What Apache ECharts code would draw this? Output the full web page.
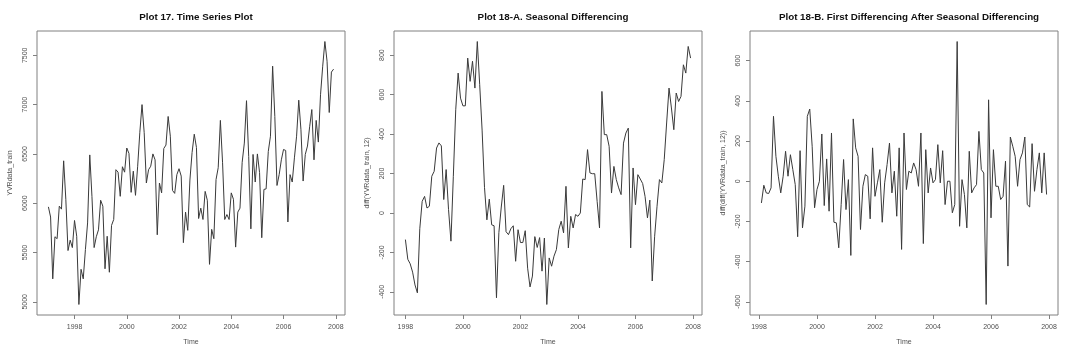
<!DOCTYPE html>
<html>
<head>
<meta charset="utf-8">
<script src="https://cdn.jsdelivr.net/npm/echarts@6/dist/echarts.min.js"></script>
<style>
  html, body { margin: 0; padding: 0; background: #fff; }
  #main { width: 1070px; height: 352px; }
</style>
</head>
<body>
<div id="main"></div>
<script>
// monthly series
var yvrStart = 1997;
var yvrTrain = [
  5963, 5860, 5233, 5660, 5640, 5970, 5940, 6430, 6040, 5520, 5625, 5550,
  5825, 5665, 4973, 5330, 5233, 5530, 5800, 6490, 6070, 5550, 5660, 5730,
  6030, 5970, 5335, 5665, 5300, 5775, 5835, 6340, 6315, 6070, 6370, 6315,
  6560, 6505, 6110, 6325, 6080, 6375, 6720, 7000, 6715, 6205, 6340, 6375,
  6500, 6440, 5680, 6205, 6105, 6555, 6590, 6880, 6680, 6130, 6100, 6290,
  6350, 6275, 5600, 5910, 5725, 6235, 6515, 6700, 6565, 5845, 5950, 5835,
  6120, 6030, 5380, 5735, 5640, 6240, 6360, 6840, 6410, 5835, 5885, 5835,
  6105, 6040, 5555, 5910, 5950, 6415, 6610, 7040, 6475, 5740, 6495, 6215,
  6500, 6310, 5650, 6140, 6145, 6525, 6680, 7390, 6880, 6180, 6290, 6440,
  6545, 6535, 5810, 6290, 6215, 6460, 6680, 7045, 6745, 6225, 6495, 6580,
  6775, 6950, 6440, 6840, 6620, 7100, 7390, 7640, 7440, 6920, 7330, 7360
];

var seasStart = 1998;
var seasDiff = [
  -135, -235, -258, -300, -365, -405, -80, 59, 84, 25, 34, 186,
  211, 329, 355, 340, 68, 220, 17, -143, 186, 523, 709, 582,
  543, 543, 785, 667, 769, 633, 869, 650, 420, 130, -35, 70,
  -60, -65, -430, -100, 30, 140, -95, -110, -80, -65, -245, -85,
  -150, -150, -90, -280, -375, -320, -120, -175, -125, -295, -127, -464,
  -228, -270, -219, -186, -84, -42, -101, 135, -177, -17, -76, -8,
  -17, 0, 172, 169, 321, 203, 199, 199, 59, -76, 616, 397,
  397, 338, 101, 236, 169, 127, 93, 354, 405, 430, -177, 228,
  42, 194, 172, 149, 84, -25, 65, -345, -118, 34, 169, 152,
  270, 456, 633, 532, 422, 608, 565, 591, 751, 709, 844, 785
];

var firstStart = 1998 + 1 / 12;
var firstDiff = [
  -108, -20, -58, -61, -33, 323, 124, 25, -58, 25, 149, 25,
  132, 58, -17, -276, 152, -232, -124, 323, 359, 174, -132, -41,
  0, 235, -121, 111, -149, 240, -204, -207, -331, -116, 108, -141,
  8, -369, 310, 166, 124, -240, -25, 33, 25, -187, 166, -75,
  -8, 58, -204, -8, 83, 190, -58, 50, -174, 166, -339, 240,
  -41, 50, 41, 91, 58, -25, 240, -310, 157, -58, 66, -8,
  8, 182, -8, 152, -116, 0, 0, -157, -116, 695, -224, 8,
  -66, -232, 149, -58, -33, -17, 248, 58, 41, -613, 405, -182,
  157, -25, -25, -91, -75, 100, -422, 220, 174, 124, -25, 108,
  141, 220, -116, -128, 187, -50, 58, 141, -58, 141, -66
];

// tick labels
var yearTicks = [1998, 2000, 2002, 2004, 2006, 2008];
var ticks17 = [5000, 5500, 6000, 6500, 7000, 7500];
var ticks18a = [-400, -200, 0, 200, 400, 600, 800];
var ticks18b = [-600, -400, -200, 0, 200, 400, 600];

var titles = [
  'Plot 17. Time Series Plot',
  'Plot 18-A. Seasonal Differencing',
  'Plot 18-B. First Differencing After Seasonal Differencing'
];
var yNames = ['YVRdata_train', 'diff(YVRdata_train, 12)', 'diff(diff(YVRdata_train, 12))'];

function toPairs(start, vals) {
  return vals.map(function (v, i) { return [start + i / 12, v]; });
}

// R style: plot range = data range padded by 4% each side
function padded(lo, hi) {
  var d = (hi - lo) * 0.04;
  return [lo - d, hi + d];
}

var panels = [
  { start: yvrStart, vals: yvrTrain, yticks: ticks17, left: 37 },
  { start: seasStart, vals: seasDiff, yticks: ticks18a, left: 394 },
  { start: firstStart, vals: firstDiff, yticks: ticks18b, left: 750 }
];

var font = 'Liberation Sans, Arial, Helvetica, sans-serif';
var frameColor = '#808080';
var textColor = '#505050';
var plain = function (v) { return String(v); };

var option = {
  animation: false,
  backgroundColor: '#fff',
  title: [], grid: [], xAxis: [], yAxis: [], series: []
};

panels.forEach(function (p, k) {
  var n = p.vals.length;
  var xr = padded(p.start, p.start + (n - 1) / 12);
  var yr = padded(Math.min.apply(null, p.vals), Math.max.apply(null, p.vals));

  option.grid.push({
    left: p.left, top: 31, width: 308, height: 284,
    show: true, borderColor: frameColor, borderWidth: 1,
    backgroundColor: 'transparent'
  });
  option.title.push({
    text: titles[k],
    left: p.left + 154, top: 7, textAlign: 'center',
    textStyle: { fontFamily: font, fontSize: 9.8, fontWeight: 'bold', color: '#111' }
  });
  option.xAxis.push({
    type: 'value', gridIndex: k, min: xr[0], max: xr[1],
    name: 'Time', nameLocation: 'middle', nameGap: 24,
    nameTextStyle: { fontFamily: font, fontSize: 7, color: textColor },
    axisLine: { show: false, onZero: false },
    splitLine: { show: false },
    axisTick: { show: true, length: 4, customValues: yearTicks, lineStyle: { color: frameColor } },
    axisLabel: { customValues: yearTicks, formatter: plain, margin: 9, fontFamily: font, fontSize: 7, color: textColor }
  });
  option.yAxis.push({
    type: 'value', gridIndex: k, min: yr[0], max: yr[1],
    name: yNames[k], nameLocation: 'middle', nameGap: 23, nameRotate: 90,
    nameTextStyle: { fontFamily: font, fontSize: 7, color: textColor },
    axisLine: { show: false, onZero: false },
    splitLine: { show: false },
    axisTick: { show: true, length: 4, customValues: p.yticks, lineStyle: { color: frameColor } },
    axisLabel: { customValues: p.yticks, formatter: plain, rotate: 90, margin: 8, fontFamily: font, fontSize: 7, color: textColor }
  });
  option.series.push({
    type: 'line', xAxisIndex: k, yAxisIndex: k,
    data: toPairs(p.start, p.vals),
    showSymbol: false, symbol: 'none',
    lineStyle: { color: '#3a3a3a', width: 1 }
  });
});

var chart = echarts.init(document.getElementById('main'), null, { renderer: 'canvas' });
chart.setOption(option);
</script>
</body>
</html>
